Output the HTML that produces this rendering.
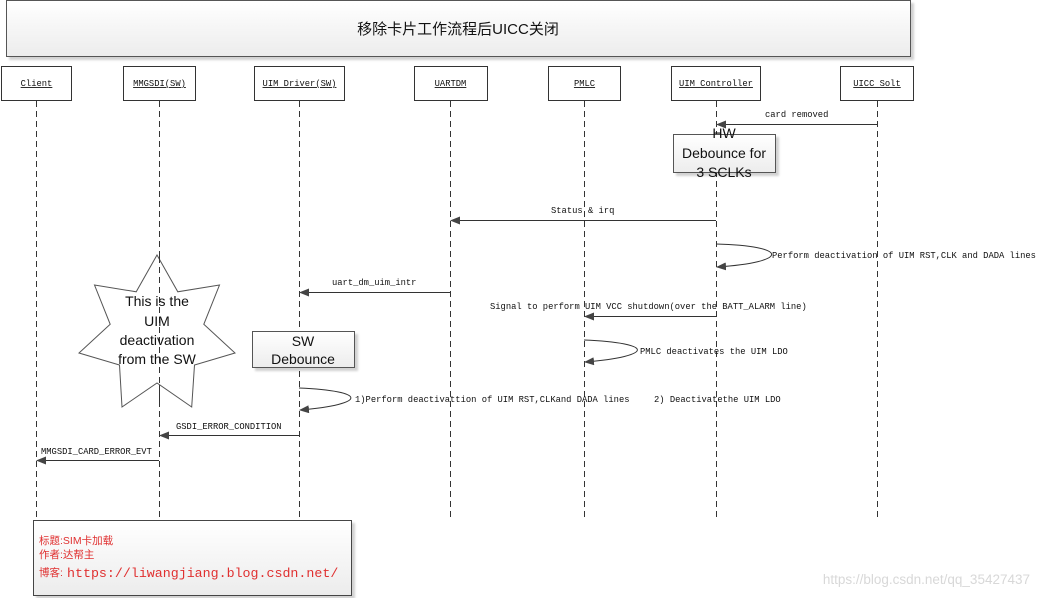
<!DOCTYPE html>
<html><head><meta charset="utf-8"><style>
html,body{margin:0;padding:0;background:#fff;}
svg{display:block;}
.m{font-family:"Liberation Mono",monospace;font-size:8.8px;fill:#111;}
.c{font-family:"Liberation Sans","Noto Sans CJK SC",sans-serif;}
</style></head><body>
<svg width="1040" height="598" viewBox="0 0 1040 598" xmlns="http://www.w3.org/2000/svg">
<defs>
<linearGradient id="g" x1="0" y1="0" x2="0" y2="1"><stop offset="0" stop-color="#ffffff"/><stop offset="1" stop-color="#ececec"/></linearGradient>
<marker id="a" markerWidth="10" markerHeight="8" refX="9" refY="4" orient="auto" markerUnits="userSpaceOnUse"><path d="M0,0 L10,4 L0,8 Z" fill="#444"/></marker>
<filter id="s" x="-5%" y="-5%" width="115%" height="120%"><feDropShadow dx="3" dy="3" stdDeviation="1" flood-color="#000" flood-opacity="0.18"/></filter>
</defs>
<rect x="6.5" y="0.5" width="904" height="56" fill="url(#g)" stroke="#555" filter="url(#s)"/>
<text x="458" y="34" class="c" font-size="15" text-anchor="middle" fill="#111">移除卡片工作流程后UICC关闭</text>
<g stroke="#333" stroke-width="1" stroke-dasharray="6,4">
<line x1="36.5" y1="101" x2="36.5" y2="520"/>
<line x1="159.5" y1="101" x2="159.5" y2="520"/>
<line x1="299.5" y1="101" x2="299.5" y2="520"/>
<line x1="450.5" y1="101" x2="450.5" y2="520"/>
<line x1="584.5" y1="101" x2="584.5" y2="520"/>
<line x1="716.5" y1="101" x2="716.5" y2="520"/>
<line x1="877.5" y1="101" x2="877.5" y2="520"/>
</g>
<g fill="#fff" stroke="#333">
<rect x="1.5" y="66.5" width="70" height="34"/>
<rect x="123.5" y="66.5" width="72" height="34"/>
<rect x="254.5" y="66.5" width="90" height="34"/>
<rect x="414.5" y="66.5" width="73" height="34"/>
<rect x="548.5" y="66.5" width="72" height="34"/>
<rect x="671.5" y="66.5" width="89" height="34"/>
<rect x="840.5" y="66.5" width="73" height="34"/>
</g>
<g text-anchor="middle">
<text x="36.5" y="86" class="m" text-decoration="underline">Client</text>
<text x="159.5" y="86" class="m" text-decoration="underline">MMGSDI(SW)</text>
<text x="299.5" y="86" class="m" text-decoration="underline">UIM Driver(SW)</text>
<text x="450.5" y="86" class="m" text-decoration="underline">UARTDM</text>
<text x="584.5" y="86" class="m" text-decoration="underline">PMLC</text>
<text x="716" y="86" class="m" text-decoration="underline">UIM Controller</text>
<text x="877" y="86" class="m" text-decoration="underline">UICC Solt</text>
</g>
<g stroke="#333" fill="none" marker-end="url(#a)">
<line x1="877" y1="124.5" x2="717" y2="124.5"/>
<line x1="716" y1="220.5" x2="451" y2="220.5"/>
<path d="M716,244 C790,246 790,262 717,267"/>
<line x1="450" y1="292.5" x2="300" y2="292.5"/>
<line x1="716" y1="316.5" x2="585" y2="316.5"/>
<path d="M584,340 C655,343 655,356 585,362"/>
<path d="M299,388 C368,391 368,404 300,410"/>
<line x1="299" y1="435.5" x2="160" y2="435.5"/>
<line x1="159" y1="460.5" x2="37" y2="460.5"/>
</g>
<g class="m">
<text x="765" y="117">card removed</text>
<text x="551" y="213">Status &amp; irq</text>
<text x="772" y="258">Perform deactivation of UIM RST,CLK and DADA lines</text>
<text x="332" y="285">uart_dm_uim_intr</text>
<text x="490" y="309">Signal to perform UIM VCC shutdown(over the BATT_ALARM line)</text>
<text x="640" y="354">PMLC deactivates the UIM LDO</text>
<text x="355" y="402">1)Perform deactivattion of UIM RST,CLKand DADA lines</text>
<text x="654" y="402">2) Deactivatethe UIM LDO</text>
<text x="176" y="429">GSDI_ERROR_CONDITION</text>
<text x="41" y="454">MMGSDI_CARD_ERROR_EVT</text>
</g>
<rect x="673.5" y="134.5" width="102" height="38" fill="url(#g)" stroke="#555" filter="url(#s)"/>
<g class="c" font-size="14" fill="#111" text-anchor="middle">
<text x="724" y="138">HW</text>
<text x="724" y="158">Debounce for</text>
<text x="724" y="177">3 SCLKs</text>
</g>
<polygon points="157,255 177.8,291.8 219.5,285 203.8,324.3 235,353 194.5,365 191.7,407 157,383 122,407 119.5,365 79,353 110.2,324.3 94.5,285 136.2,291.8" fill="#fff" stroke="#555"/>
<line x1="159.5" y1="257" x2="159.5" y2="405" stroke="#333" stroke-width="1" stroke-dasharray="6,4"/>
<g class="c" font-size="14" fill="#111" text-anchor="middle">
<text x="157" y="306">This is the</text>
<text x="157" y="326">UIM</text>
<text x="157" y="345">deactivation</text>
<text x="157" y="364">from the SW</text>
</g>
<rect x="252.5" y="331.5" width="102" height="36" fill="url(#g)" stroke="#555" filter="url(#s)"/>
<g class="c" font-size="14" fill="#111" text-anchor="middle">
<text x="303" y="346">SW</text>
<text x="303" y="364">Debounce</text>
</g>
<rect x="33.5" y="520.5" width="318" height="75" fill="url(#g)" stroke="#444" filter="url(#s)"/>
<g fill="#e03030">
<text x="39" y="544" class="c" font-size="10.5">标题:SIM卡加载</text>
<text x="39" y="558" class="c" font-size="10.5">作者:达帮主</text>
<text x="39" y="576" class="c" font-size="10.5">博客:</text>
<text x="67" y="577" font-family="Liberation Mono,monospace" font-size="13.3">https://liwangjiang.blog.csdn.net/</text>
</g>
<text x="1030" y="584" class="c" font-size="13.5" fill="#d8d8d8" text-anchor="end">https://blog.csdn.net/qq_35427437</text>
</svg>
</body></html>
